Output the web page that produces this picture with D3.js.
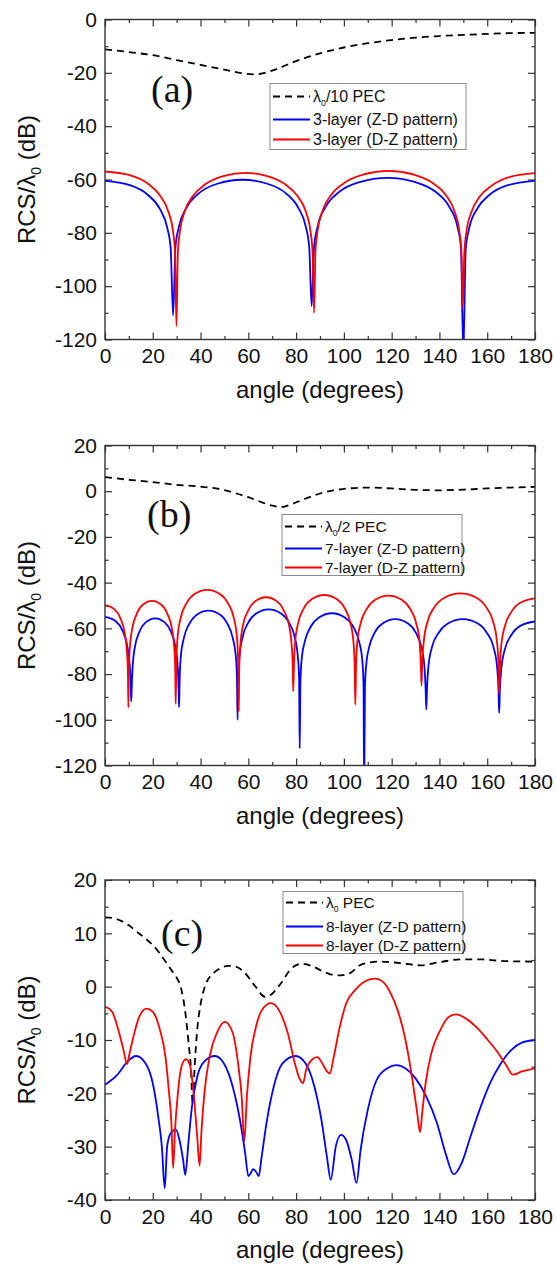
<!DOCTYPE html>
<html>
<head>
<meta charset="utf-8">
<script src="https://cdn.jsdelivr.net/npm/d3@7"></script>
<style>
  body { margin: 0; background: #fff; }
  text { font-family: "Liberation Sans", Arial, sans-serif; fill: #111; }
</style>
</head>
<body>
<div id="chart"></div>
<script>
const width = 557;
const height = 1268;

// shared angle axis
const xTicks = [0, 20, 40, 60, 80, 100, 120, 140, 160, 180];

// (a) lambda0/10 PEC vs 3-layer covers, [angle, dB]
const yTicksA = [0, -20, -40, -60, -80, -100, -120];
const pecA = [[0,-11.2],[10,-12.2],[20,-13.4],[30,-15.2],[40,-17],[50,-18.8],[57,-20.1],[62,-20.6],[66,-20.2],[72,-18.5],[80,-15.6],[90,-12.7],[100,-10.5],[110,-8.9],[120,-7.7],[130,-6.8],[140,-6.2],[150,-5.8],[160,-5.4],[170,-5.1],[180,-5]];
const zdA = [[0,-60.5],[10,-62],[18,-65.8],[23,-71.1],[26,-77.9],[27.5,-85.8],[28.5,-111],[29.5,-85.4],[31,-77.5],[34,-70.7],[39,-65.4],[47,-61.6],[57.5,-60.1],[68,-61.6],[76,-65.4],[81,-70.7],[84,-77.5],[85.5,-85.4],[86.5,-107.5],[87.5,-85.5],[89,-77.6],[92.5,-70.1],[98,-64.7],[106.5,-61],[118.3,-59.4],[130,-61],[138.5,-64.7],[144,-70.1],[147.5,-77.6],[149,-85.5],[150,-125],[151,-86.1],[152.5,-78.1],[156,-70.7],[161,-65.7],[168,-62.3],[180,-60.5]];
const dzA = [[0,-57],[10,-58.3],[18,-61.6],[23,-66],[26.5,-72],[28.4,-79],[29.3,-87],[29.9,-115],[30.5,-87.5],[31.4,-79.3],[33.3,-72.1],[36.8,-66.2],[41.8,-61.9],[49.9,-58.6],[58.7,-57.5],[67.5,-58.6],[75.6,-61.9],[80.6,-66.2],[84.1,-72.1],[86,-79.3],[86.9,-87.5],[87.5,-110],[88.1,-87],[89,-79.2],[91,-71.9],[94.5,-66],[100,-61.4],[108,-58.2],[118.7,-56.8],[129.3,-58.2],[137.3,-61.4],[142.8,-66],[146.3,-71.9],[148.3,-79.2],[149.2,-87],[149.8,-108],[150.4,-87.8],[151.3,-79.6],[153.3,-72.4],[156.8,-66.5],[162,-62.2],[170,-58.9],[180,-57.6]];
const legendA = ['/10 PEC', '3-layer (Z-D pattern)', '3-layer (D-Z pattern)'];

// (b) lambda0/2 PEC vs 7-layer covers
const yTicksB = [20, 0, -20, -40, -60, -80, -100, -120];
const pecB = [[0,6.2],[10,5],[20,4],[30,2.8],[40,2],[50,0.5],[55,-1],[60,-2.6],[65,-4.6],[70,-6.3],[74,-6.9],[78,-5.7],[84,-3.2],[90,-1],[95,0.3],[100,1],[110,1.6],[120,1.2],[130,0.6],[140,0.4],[150,0.7],[160,1.2],[170,1.6],[180,1.9]];
const zdB = [[0,-55],[4.4,-56.8],[7.3,-60.9],[9.2,-67.1],[10.3,-75.5],[10.8,-85],[11,-92],
  [11.2,-85.6],[11.6,-76.1],[12.6,-67.7],[14.4,-61.5],[17,-57.4],[21,-55.6],[25,-57.4],[27.6,-61.5],[29.4,-67.7],[30.4,-76.1],[30.8,-85.6],[31,-94.5],
  [31.25,-82.3],[31.7,-72.7],[33,-64.3],[35.2,-58.1],[38.4,-54],[43.25,-52.2],[48.2,-54],[51.3,-58.1],[53.5,-64.3],[54.8,-72.7],[55.25,-82.3],[55.5,-100],
  [55.75,-81.8],[56.3,-72.2],[57.6,-63.8],[59.9,-57.6],[63.3,-53.5],[68.5,-51.7],[73.7,-53.5],[77.1,-57.6],[79.4,-63.8],[80.7,-72.2],[81.25,-81.8],[81.5,-112.5],
  [81.8,-83.5],[82.3,-73.9],[83.7,-65.5],[86.1,-59.3],[89.6,-55.2],[95,-53.4],[100.4,-55.2],[103.9,-59.3],[106.3,-65.5],[107.7,-73.9],[108.2,-83.5],[108.5,-130],
  [108.8,-86.1],[109.3,-76.5],[110.6,-68.1],[112.9,-61.9],[116.3,-57.8],[121.5,-56],[126.7,-57.8],[130.1,-61.9],[132.4,-68.1],[133.7,-76.5],[134.2,-86.1],[134.5,-95.5],
  [134.8,-86.1],[135.4,-76.5],[136.9,-68.1],[139.7,-61.9],[143.7,-57.8],[149.75,-56],[155.9,-57.8],[159.8,-61.9],[162.6,-68.1],[164.1,-76.5],[164.7,-86.1],[165,-97],
  [165.3,-87.1],[165.9,-77.5],[167.4,-69.1],[170.1,-62.9],[174,-58.8],[180,-57]];
const dzB = [[0,-49.8],[3.9,-51.6],[6.5,-55.7],[8.2,-61.9],[9.2,-70.3],[9.6,-79.9],[9.8,-94.5],
  [10,-78.1],[10.4,-68.5],[11.4,-60.1],[13.2,-53.9],[15.7,-49.8],[19.7,-48],[23.7,-49.8],[26.2,-53.9],[28,-60.1],[29,-68.5],[29.4,-78.1],[29.6,-93],
  [29.9,-73.3],[30.4,-63.7],[31.7,-55.3],[34.1,-49.1],[37.5,-45],[42.8,-43.2],[48.1,-45],[51.5,-49.1],[53.9,-55.3],[55.2,-63.7],[55.7,-73.3],[56,-96.3],
  [56.2,-76.5],[56.7,-66.9],[57.8,-58.5],[59.9,-52.3],[62.8,-48.2],[67.4,-46.4],[72,-48.2],[74.9,-52.3],[77,-58.5],[78.1,-66.9],[78.6,-76.5],[78.8,-87.6],
  [79.1,-75.5],[79.6,-65.9],[80.9,-57.5],[83.2,-51.3],[86.6,-47.2],[91.8,-45.4],[97,-47.2],[100.4,-51.3],[102.7,-57.5],[104,-65.9],[104.5,-75.5],[104.8,-93.4],
  [105.1,-75.8],[105.6,-66.2],[107,-57.8],[109.5,-51.6],[113.1,-47.5],[118.65,-45.7],[124.2,-47.5],[127.8,-51.6],[130.3,-57.8],[131.7,-66.2],[132.2,-75.8],[132.5,-85],
  [132.8,-74.8],[133.5,-65.2],[135.1,-56.8],[138,-50.6],[142.3,-46.5],[148.75,-44.7],[155.3,-46.5],[159.5,-50.6],[162.4,-56.8],[164,-65.2],[164.7,-74.8],[165,-88.6],
  [165.3,-77],[165.9,-67.4],[167.4,-59],[170.1,-52.8],[174,-48.7],[180,-46.9]];
const legendB = ['/2 PEC', '7-layer (Z-D pattern)', '7-layer (D-Z pattern)'];

// (c) lambda0 PEC vs 8-layer covers
const yTicksC = [20, 10, 0, -10, -20, -30, -40];
const pecC = [[0,13],[4,12.8],[7,12.3],[10,11.5],[13,10.4],[17,9],[20,7.8],[23,6.2],[25.5,4.6],[28,3],[30,1.7],[32,-0.6],[33.5,-4.4],[35,-10.6],[36,-15.6],[36.7,-22],[37.6,-14.4],[38.6,-8.1],[40.1,-3.1],[42.3,0.6],[45.3,2.5],[48,3.4],[51.5,3.9],[54.5,3.8],[58.7,2.5],[63,0],[67,-1.9],[69.5,-1.5],[73.6,0.6],[78,3.4],[82.5,4.3],[87,3.8],[91.5,2.8],[97,2.1],[102,2.4],[107.5,4.2],[115,4.7],[124,4.4],[132,4],[140,4.6],[149,5.1],[158,5.1],[167,4.8],[180,4.7]];
const zdC = [[0,-18.4],[5,-16.6],[9.5,-14],[13,-13],[17,-14.4],[20,-18.1],[22.3,-24.4],[23.8,-30],[25,-37.8],[26,-30],[27.5,-27.5],[29.7,-26.8],[31.2,-28.8],[32.7,-32.5],[33.6,-35.3],[35,-28.8],[36.4,-22.5],[38.6,-16.9],[41.6,-14],[46,-13],[49.8,-14.4],[53.5,-18.8],[56.5,-25],[58.7,-31.3],[60,-35.5],[61,-35],[62,-34.2],[63.2,-34.7],[64.4,-35.5],[65.4,-32.5],[67.6,-25.6],[70.6,-18.8],[74.3,-14.4],[79.8,-13],[84,-14.4],[87.7,-18.8],[90.6,-25],[92.9,-31.9],[94.5,-36.2],[96.6,-30],[98.8,-27.8],[101,-28.8],[103.3,-32.5],[105.3,-36.8],[107,-30.6],[110,-23.1],[113.7,-17.5],[118.2,-15.3],[122,-14.7],[125.7,-15.3],[130,-17.2],[134.5,-20.6],[139,-25.6],[142.6,-31.3],[146,-35.2],[149.3,-33.1],[153,-28.1],[156.8,-23.1],[161.2,-18.1],[165.7,-14.4],[170,-11.9],[174.5,-10.5],[180,-10]];
const dzC = [[0,-3.75],[3,-4.7],[5.2,-7.5],[7.4,-11.2],[9.3,-14.5],[10,-13.1],[11.9,-9.4],[14.1,-5.9],[17.3,-4.1],[20,-4.7],[23,-8.1],[25.3,-13.1],[26.7,-19.4],[27.8,-25.6],[28.5,-34],[29.3,-26.9],[30.5,-20],[32,-15],[33.9,-13.6],[35.7,-15],[37.1,-20],[38.6,-28.1],[39.6,-33.6],[40.4,-26.9],[41.6,-20],[43.8,-13.1],[46.8,-8.7],[50.2,-6.6],[53.5,-8.7],[55.7,-14.4],[57.2,-20.6],[58.3,-29],[59.4,-20.6],[60.9,-13.1],[63.2,-7.5],[66.1,-4.1],[69.5,-3.1],[72.8,-4.4],[76.5,-8.7],[79.5,-14.4],[81.4,-17.2],[82.9,-18.1],[84.2,-15.6],[86.6,-13.7],[88.9,-13.2],[91,-14.4],[92.9,-15.9],[94.1,-16.3],[95.8,-13.1],[98,-8.1],[101,-3.1],[104.8,-0.6],[109.3,1.1],[113,1.5],[116.7,0.75],[119.6,-1.25],[122.5,-4.4],[125.5,-9.4],[128.5,-16.9],[130.7,-23.7],[131.9,-27.3],[132.9,-23.1],[134.4,-17.5],[136.6,-12.5],[140.4,-8.1],[144.1,-5.6],[147.1,-5.2],[150.8,-5.9],[155.3,-7.5],[159.7,-9.7],[164.2,-12.2],[167.9,-14.7],[170.8,-16.5],[174.5,-15.9],[180,-15.3]];
const legendC = [' PEC', '8-layer (Z-D pattern)', '8-layer (D-Z pattern)'];

// layout
const plotLeft = 105, plotW = 430, plotH = 320;
const styles = [
  { color: '#000', dash: '7,5' },
  { color: '#0000ff', dash: null },
  { color: '#ff0000', dash: null }
];

const panels = [
  { tag: '(a)', top: 19.5, domain: [-120, 0], ticks: yTicksA, minor: 10,
    series: [pecA, zdA, dzA], legend: legendA,
    box: { x: 165, y: 64, w: 196, h: 66, rows: [13, 36, 56], fs: 16 }, tagAt: [46, 82] },
  { tag: '(b)', top: 445.5, domain: [-120, 20], ticks: yTicksB, minor: 10,
    series: [pecB, zdB, dzB], legend: legendB,
    box: { x: 177, y: 69, w: 180, h: 61, rows: [12, 34, 53], fs: 15.5 }, tagAt: [42, 81] },
  { tag: '(c)', top: 880, domain: [-40, 20], ticks: yTicksC, minor: 5,
    series: [pecC, zdC, dzC], legend: legendC,
    box: { x: 178, y: 11.5, w: 180, h: 62, rows: [11, 35, 54], fs: 15.5 }, tagAt: [56, 66] }
];

const svg = d3.select('#chart').append('svg')
  .attr('width', width)
  .attr('height', height);

const x = d3.scaleLinear().domain([0, 180]).range([0, plotW]);
const xMinor = d3.range(10, 180, 20);

panels.forEach((p, pi) => {
  const y = d3.scaleLinear().domain(p.domain).range([plotH, 0]);
  const yMinor = d3.range(p.domain[0] + p.minor, p.domain[1], p.minor * 2);
  const g = svg.append('g').attr('transform', `translate(${plotLeft},${p.top})`);

  g.append('clipPath').attr('id', 'clip' + pi)
    .append('rect').attr('width', plotW).attr('height', plotH);

  // axes with inward ticks on all four sides
  const fmt = d => String(d);
  const axes = [
    [d3.axisBottom(x).tickValues(xTicks).tickFormat(fmt).tickPadding(9), `translate(0,${plotH})`, 7],
    [d3.axisBottom(x).tickValues(xMinor).tickFormat(''), `translate(0,${plotH})`, 3.5],
    [d3.axisTop(x).tickValues(xTicks).tickFormat(''), null, 7],
    [d3.axisTop(x).tickValues(xMinor).tickFormat(''), null, 3.5],
    [d3.axisLeft(y).tickValues(p.ticks).tickFormat(fmt).tickPadding(8), null, 7],
    [d3.axisLeft(y).tickValues(yMinor).tickFormat(''), null, 3.5],
    [d3.axisRight(y).tickValues(p.ticks).tickFormat(''), `translate(${plotW},0)`, 7],
    [d3.axisRight(y).tickValues(yMinor).tickFormat(''), `translate(${plotW},0)`, 3.5]
  ];
  axes.forEach(([ax, tr, len]) => {
    const a = g.append('g').call(ax.tickSizeInner(-len).tickSizeOuter(0));
    if (tr) a.attr('transform', tr);
    a.select('.domain').remove();
    a.selectAll('line').attr('stroke', '#333').attr('stroke-width', 1.2);
    a.selectAll('text').attr('font-size', 21).attr('fill', '#111')
      .style('font-family', '"Liberation Sans", Arial, sans-serif');
  });

  // curves
  const line = d3.line()
    .x(d => x(d[0]))
    .y(d => y(d[1]))
    .curve(d3.curveMonotoneX);
  const plot = g.append('g').attr('clip-path', `url(#clip${pi})`);
  p.series.forEach((s, i) => {
    plot.append('path')
      .datum(s)
      .attr('d', line)
      .attr('fill', 'none')
      .attr('stroke', styles[i].color)
      .attr('stroke-width', 1.8)
      .attr('stroke-dasharray', styles[i].dash);
  });

  g.append('rect')
    .attr('width', plotW).attr('height', plotH)
    .attr('fill', 'none').attr('stroke', '#333').attr('stroke-width', 1.4);

  // panel tag
  g.append('text')
    .attr('x', p.tagAt[0]).attr('y', p.tagAt[1])
    .attr('font-size', 38)
    .style('font-family', '"Liberation Serif", "Times New Roman", serif')
    .text(p.tag);

  // legend
  const b = p.box;
  const lg = g.append('g').attr('transform', `translate(${b.x},${b.y})`);
  lg.append('rect').attr('width', b.w).attr('height', b.h)
    .attr('fill', '#fff').attr('stroke', '#8a8a8a').attr('stroke-width', 1);
  p.legend.forEach((lab, i) => {
    const ry = b.rows[i];
    lg.append('line')
      .attr('x1', 3).attr('x2', 40).attr('y1', ry).attr('y2', ry)
      .attr('stroke', styles[i].color).attr('stroke-width', 1.8)
      .attr('stroke-dasharray', styles[i].dash);
    const t = lg.append('text')
      .attr('x', 43).attr('y', ry)
      .attr('dy', '0.35em')
      .attr('font-size', b.fs);
    if (i === 0) {
      t.append('tspan').text('λ');
      t.append('tspan').attr('dy', 4).attr('font-size', b.fs * 0.55).text('0');
      t.append('tspan').attr('dy', -4).text(lab);
    } else {
      t.text(lab);
    }
  });

  // axis titles
  g.append('text')
    .attr('x', plotW / 2).attr('y', plotH + 58)
    .attr('text-anchor', 'middle')
    .attr('font-size', 24)
    .text('angle (degrees)');

  const yt = g.append('text')
    .attr('transform', `translate(${27 - plotLeft},${plotH / 2}) rotate(-90)`)
    .attr('text-anchor', 'middle')
    .attr('dy', '0.35em')
    .attr('font-size', 24);
  yt.append('tspan').text('RCS/λ');
  yt.append('tspan').attr('dy', 6).attr('font-size', 14).text('0');
  yt.append('tspan').attr('dy', -6).text(' (dB)');
});
</script>
</body>
</html>
